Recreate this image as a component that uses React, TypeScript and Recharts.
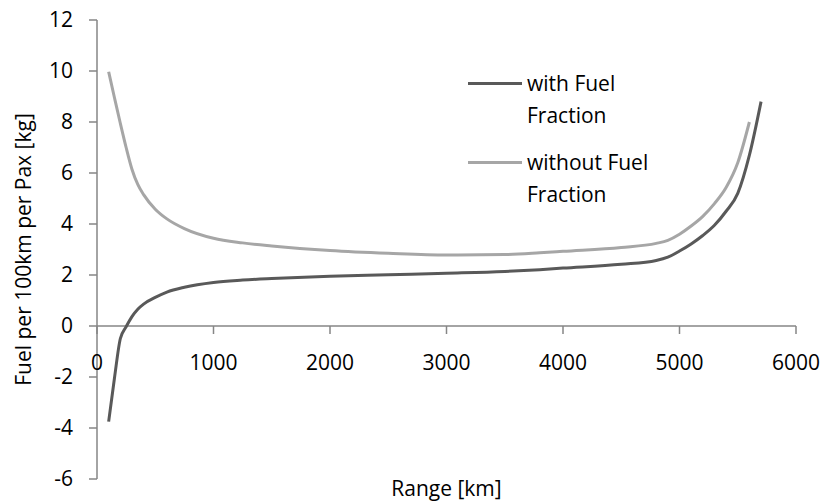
import { LineChart, Line, XAxis, YAxis, ReferenceLine, Legend, Label } from "recharts";

// range in km and fuel per 100 km per passenger in kg
const rangeKm = [100, 150, 200, 250, 300, 350, 400, 500, 600, 750, 1000, 1250, 1500, 2000, 2500, 3000, 3500, 3800, 4000, 4500, 4800, 4900, 5000, 5100, 5200, 5300, 5400, 5500, 5600, 5700];
const withFuelFraction = [-3.75, -2.04, -0.5, -0.03, 0.37, 0.66, 0.86, 1.12, 1.33, 1.52, 1.71, 1.8, 1.86, 1.95, 2.01, 2.07, 2.14, 2.21, 2.27, 2.42, 2.57, 2.7, 2.94, 3.22, 3.55, 3.95, 4.5, 5.2, 6.7, 8.8];
const withoutFuelFraction = [9.97, 8.95, 7.95, 7.0, 6.15, 5.55, 5.15, 4.58, 4.2, 3.82, 3.44, 3.26, 3.14, 2.96, 2.85, 2.78, 2.8, 2.87, 2.93, 3.08, 3.24, 3.36, 3.6, 3.92, 4.3, 4.8, 5.43, 6.4, 8.0, null];

const xTicks = [0, 1000, 2000, 3000, 4000, 5000, 6000];
const yTicks = [-6, -4, -2, 0, 2, 4, 6, 8, 10, 12];

const series = [
  { key: "withFF", name: "with Fuel Fraction", color: "#595959" },
  { key: "withoutFF", name: "without Fuel Fraction", color: "#a6a6a6" },
];

const data = rangeKm.map((r, i) => ({
  range: r,
  withFF: withFuelFraction[i],
  withoutFF: withoutFuelFraction[i],
}));

const W = 823;
const H = 501;
const MARGIN = { top: 20, right: 27, left: 0, bottom: 0 };
const Y_AXIS_W = 97;
const X_AXIS_H = 22;
const AXIS = "#868686";
const FONT = '"Open Sans", sans-serif';
const FS = 21;

const plotH = H - MARGIN.top - MARGIN.bottom - X_AXIS_H;
const yMin = yTicks[0];
const yMax = yTicks[yTicks.length - 1];
// x axis crosses the value axis at zero
const zeroY = MARGIN.top + (plotH * yMax) / (yMax - yMin);

const ZeroAxisTick = (props: any) => {
  const { x, payload } = props;
  return (
    <g>
      <line x1={x} x2={x} y1={zeroY} y2={zeroY + 8} stroke={AXIS} strokeWidth={1.5} />
      <text x={x} y={zeroY + 36} textAnchor="middle" dominantBaseline="central" fontSize={FS} fill="#000" fontFamily={FONT}>
        {payload.value}
      </text>
    </g>
  );
};

const LegendBox = () => (
  <div style={{ fontFamily: FONT, fontSize: FS, lineHeight: "32px", color: "#000" }}>
    {series.map((s) => (
      <div key={s.key} style={{ display: "flex", marginBottom: 15 }}>
        <div style={{ width: 54, height: 3, background: s.color, marginTop: 15 }} />
        <div style={{ width: 160, marginLeft: 5 }}>{s.name}</div>
      </div>
    ))}
  </div>
);

export default function App() {
  return (
    <div style={{ position: "absolute", left: 0, top: 0, fontFamily: FONT, background: "#fff" }}>
      <LineChart width={W} height={H} data={data} margin={MARGIN}>
        <XAxis
          dataKey="range"
          type="number"
          domain={[0, 6000]}
          ticks={xTicks}
          axisLine={false}
          tickLine={false}
          tick={<ZeroAxisTick />}
          height={X_AXIS_H}
        >
          <Label
            content={(p: any) => (
              <text
                x={p.viewBox.x + p.viewBox.width / 2}
                y={p.viewBox.y + 9}
                textAnchor="middle"
                dominantBaseline="central"
                fontSize={FS}
                fill="#000"
                fontFamily={FONT}
              >
                Range [km]
              </text>
            )}
          />
        </XAxis>
        <YAxis
          type="number"
          domain={[yMin, yMax]}
          ticks={yTicks}
          width={Y_AXIS_W}
          stroke={AXIS}
          strokeWidth={1.5}
          tickSize={8}
          tickMargin={16}
          tick={{ fill: "#000", fontSize: FS, fontFamily: FONT }}
        >
          <Label
            content={(p: any) => {
              const cx = p.viewBox.x + 23;
              const cy = p.viewBox.y + p.viewBox.height / 2;
              return (
                <text
                  x={cx}
                  y={cy}
                  transform={`rotate(-90 ${cx} ${cy})`}
                  textAnchor="middle"
                  dominantBaseline="central"
                  fontSize={FS}
                  fill="#000"
                  fontFamily={FONT}
                >
                  Fuel per 100km per Pax [kg]
                </text>
              );
            }}
          />
        </YAxis>
        <ReferenceLine y={0} stroke={AXIS} strokeWidth={1.5} />
        <Legend
          layout="vertical"
          align="center"
          verticalAlign="middle"
          content={<LegendBox />}
          wrapperStyle={{ left: 468, top: 67, width: 230 }}
        />
        {series.map((s) => (
          <Line
            key={s.key}
            dataKey={s.key}
            name={s.name}
            type="monotone"
            stroke={s.color}
            strokeWidth={3}
            dot={false}
            activeDot={false}
            isAnimationActive={false}
          />
        ))}
      </LineChart>
    </div>
  );
}
